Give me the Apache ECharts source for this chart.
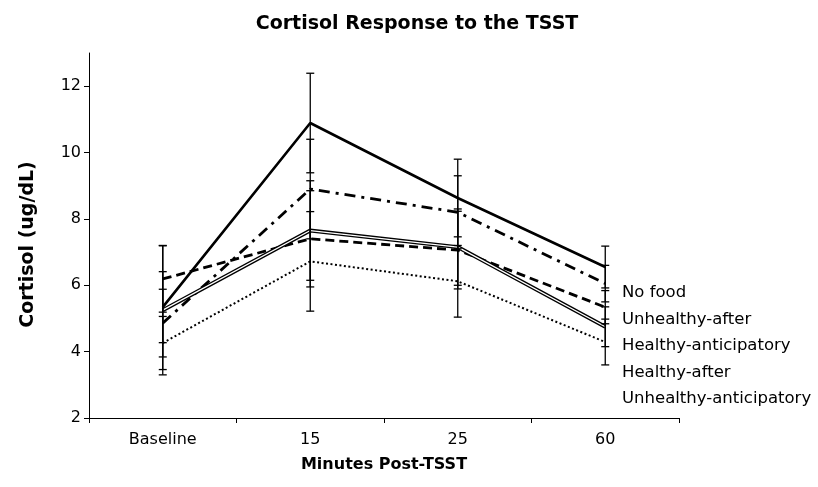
<!DOCTYPE html>
<html>
<head>
<meta charset="utf-8">
<script src="https://cdn.jsdelivr.net/npm/echarts@6/dist/echarts.min.js"></script>
<style>
  html, body { margin: 0; padding: 0; background: #fff; }
  #chart { width: 818px; height: 487px; }
</style>
</head>
<body>
<div id="chart"></div>
<script>
// time points
const categories = ['Baseline', '15', '25', '60']

// mean cortisol (ug/dL) and error per group
const noFood = [5.34, 10.89, 8.63, 6.55]
const noFoodErr = [1.07, 1.5, 1.17, 0.63]
const unhealthyAfter = [4.86, 8.9, 8.2, 6.05]
const unhealthyAfterErr = [1.02, 1.5, 1.1, 0.55]
const healthyAnticipatory = [6.19, 7.4, 7.06, 5.34]
const healthyAnticipatoryErr = [1.0, 1.45, 1.17, 0.5]
const healthyAfter = [5.25, 7.65, 7.15, 4.75]
const healthyAfterErr = [1.95, 1.5, 1.15, 0.6]
const unhealthyAnticipatory = [4.26, 6.72, 6.12, 4.29]
const unhealthyAnticipatoryErr = [0.8, 1.5, 1.08, 0.69]

const legendNames = ['No food', 'Unhealthy-after', 'Healthy-anticipatory', 'Healthy-after', 'Unhealthy-anticipatory']

const font = 'DejaVu Sans'

function errorBars(name, values, errs) {
  return {
    type: 'custom',
    name: name + ' error',
    silent: true,
    z: 5,
    data: values.map((v, i) => [i, v - errs[i], v + errs[i]]),
    encode: { x: 0, y: [1, 2] },
    renderItem: function (params, api) {
      const lo = api.coord([api.value(0), api.value(1)])
      const hi = api.coord([api.value(0), api.value(2)])
      const w = 4
      const style = { stroke: '#000', lineWidth: 1.3 }
      return {
        type: 'group',
        children: [
          { type: 'line', shape: { x1: hi[0], y1: hi[1], x2: lo[0], y2: lo[1] }, style: style },
          { type: 'line', shape: { x1: hi[0] - w, y1: hi[1], x2: hi[0] + w, y2: hi[1] }, style: style },
          { type: 'line', shape: { x1: lo[0] - w, y1: lo[1], x2: lo[0] + w, y2: lo[1] }, style: style }
        ]
      }
    }
  }
}

function line(name, data, width, type, color, z) {
  return {
    type: 'line',
    name: name,
    data: data,
    symbol: 'none',
    silent: true,
    z: z || 3,
    lineStyle: { color: color || '#000', width: width, type: type, cap: 'butt' },
    itemStyle: { color: color || '#000' }
  }
}

const chart = echarts.init(document.getElementById('chart'))

chart.setOption({
  backgroundColor: '#fff',
  animation: false,
  title: {
    text: 'Cortisol Response to the TSST',
    left: 412,
    textAlign: 'center',
    top: 10,
    textStyle: { fontFamily: font, fontSize: 19, fontWeight: 'bold', color: '#000' }
  },
  legend: {
    data: legendNames,
    orient: 'vertical',
    left: 612,
    top: 278,
    icon: 'rect',
    itemWidth: 0,
    itemHeight: 0,
    itemGap: 6.5,
    selectedMode: false,
    textStyle: { fontFamily: font, fontSize: 16.5, color: '#000', lineHeight: 20 }
  },
  grid: { left: 89, right: 139, top: 53, bottom: 69 },
  xAxis: {
    type: 'category',
    data: categories,
    boundaryGap: true,
    name: 'Minutes Post-TSST',
    nameLocation: 'middle',
    nameGap: 39,
    nameTextStyle: { fontFamily: font, fontSize: 16, fontWeight: 'bold', color: '#000' },
    axisLine: { lineStyle: { color: '#000', width: 1 } },
    axisTick: { show: true, length: 5, lineStyle: { color: '#000' } },
    axisLabel: { fontFamily: font, fontSize: 16, color: '#000', margin: 14 },
    splitLine: { show: false }
  },
  yAxis: {
    type: 'value',
    min: 2,
    max: 13,
    interval: 2,
    name: 'Cortisol (ug/dL)',
    nameLocation: 'middle',
    nameGap: 51,
    nameRotate: 90,
    nameTextStyle: { fontFamily: font, fontSize: 19, fontWeight: 'bold', color: '#000', padding: [0, 18, 0, 0] },
    axisLine: { show: true, lineStyle: { color: '#000', width: 1 } },
    axisTick: { show: true, length: 5, lineStyle: { color: '#000' } },
    axisLabel: { fontFamily: font, fontSize: 16, color: '#000', margin: 8, showMaxLabel: false },
    splitLine: { show: false }
  },
  series: [
    errorBars('No food', noFood, noFoodErr),
    errorBars('Unhealthy-after', unhealthyAfter, unhealthyAfterErr),
    errorBars('Healthy-anticipatory', healthyAnticipatory, healthyAnticipatoryErr),
    errorBars('Healthy-after', healthyAfter, healthyAfterErr),
    errorBars('Unhealthy-anticipatory', unhealthyAnticipatory, unhealthyAnticipatoryErr),
    line('No food', noFood, 2.6, 'solid'),
    line('Unhealthy-after', unhealthyAfter, 2.8, [11, 6, 3, 6]),
    line('Healthy-anticipatory', healthyAnticipatory, 2.8, [9, 5]),
    line('Healthy-after', healthyAfter, 4, 'solid'),
    line('Healthy-after inner', healthyAfter, 1.3, 'solid', '#fff', 4),
    line('Unhealthy-anticipatory', unhealthyAnticipatory, 2, [2, 2.5])
  ]
})
</script>
</body>
</html>
